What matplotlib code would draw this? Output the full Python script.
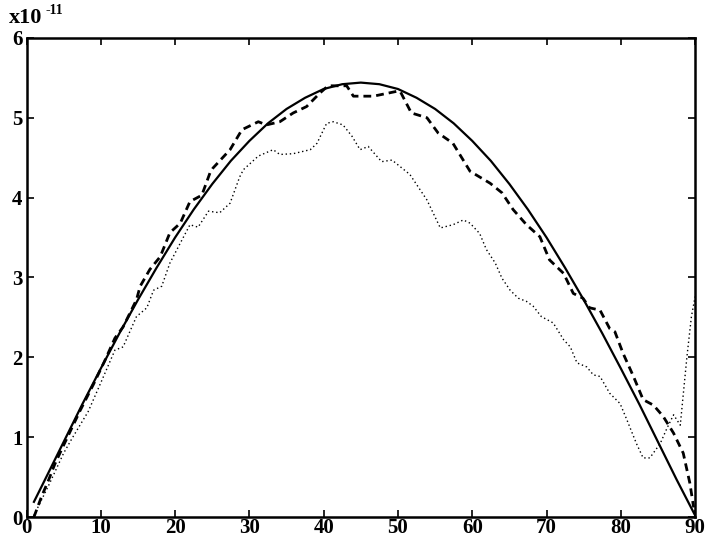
import matplotlib
matplotlib.use("Agg")
import matplotlib.pyplot as plt

plt.rcParams['font.family'] = ['Liberation Serif', 'DejaVu Serif']
plt.rcParams['font.weight'] = 'bold'

# solid curve
solid_x = [1, 2.5, 5, 7.5, 10, 12.5, 15, 17.5, 20, 22.5, 25, 27.5, 30, 32.5, 35, 37.5,
           40, 42.5, 45, 47.5, 50, 52.5, 55, 57.5, 60, 62.5, 65, 67.5, 70, 72.5, 75,
           77.5, 80, 82.5, 85, 87.5, 90]
solid_y = [0.19, 0.47, 0.94, 1.41, 1.86, 2.30, 2.72, 3.12, 3.50, 3.85, 4.17, 4.46,
           4.71, 4.93, 5.11, 5.25, 5.36, 5.42, 5.44, 5.42, 5.36, 5.25, 5.11, 4.93,
           4.71, 4.46, 4.17, 3.85, 3.50, 3.12, 2.72, 2.30, 1.86, 1.41, 0.94, 0.47, 0.02]

# dashed curve
dash_x = [1.0, 2.0, 3.0, 3.8, 5.0, 7.2, 9.0, 10.5, 11.9, 13.0, 14.8, 15.3, 16.6, 18.0,
          19.3, 20.7, 22.0, 23.6, 24.7, 25.1, 27.4, 29.0, 31.2, 32.3, 34.1, 35.9, 37.7,
          39.5, 40.6, 43.1, 44.0, 46.7, 49.8, 50.3, 51.8, 53.9, 55.4, 57.4, 59.7, 62.4,
          64.0, 65.5, 67.3, 69.1, 70.4, 72.3, 73.6, 74.9, 75.8, 77.2, 78.5, 79.2, 80.3,
          81.7, 83.0, 84.4, 85.7, 87.1, 88.4, 89.3, 89.8]
dash_y = [0.00, 0.25, 0.47, 0.66, 0.90, 1.33, 1.66, 1.95, 2.24, 2.38, 2.72, 2.89, 3.10,
          3.26, 3.56, 3.68, 3.95, 4.03, 4.31, 4.37, 4.60, 4.85, 4.95, 4.91, 4.95, 5.06,
          5.14, 5.31, 5.40, 5.40, 5.27, 5.27, 5.33, 5.33, 5.06, 5.00, 4.81, 4.68, 4.33,
          4.18, 4.06, 3.85, 3.66, 3.51, 3.22, 3.05, 2.80, 2.74, 2.62, 2.59, 2.36, 2.32,
          2.05, 1.76, 1.47, 1.40, 1.26, 1.05, 0.80, 0.42, 0.12]

# dotted curve
dot_x = [1.0, 3.0, 5.0, 6.1, 8.3, 9.9, 11.9, 13.0, 14.8, 16.2, 17.1, 18.2, 19.3, 20.7,
         22.0, 23.1, 24.5, 26.0, 27.4, 28.7, 29.2, 31.2, 33.2, 34.1, 35.9, 38.2, 39.1,
         40.4, 41.3, 42.6, 43.8, 44.9, 46.0, 47.8, 49.2, 51.6, 53.9, 55.7, 57.4, 58.8,
         59.7, 61.0, 61.9, 63.1, 64.0, 65.1, 66.2, 67.3, 68.2, 69.3, 70.9, 72.3, 73.2,
         74.1, 75.4, 76.3, 77.2, 78.5, 79.9, 80.8, 82.1, 83.0, 83.9, 85.3, 86.2, 87.1,
         88.0, 88.9, 89.5, 90.0]
dot_y = [0.02, 0.40, 0.80, 0.98, 1.32, 1.66, 2.09, 2.13, 2.51, 2.62, 2.84, 2.89, 3.18,
         3.43, 3.66, 3.63, 3.83, 3.81, 3.93, 4.26, 4.35, 4.52, 4.60, 4.54, 4.55, 4.60,
         4.68, 4.93, 4.95, 4.91, 4.77, 4.60, 4.64, 4.45, 4.47, 4.29, 3.97, 3.62, 3.66,
         3.72, 3.68, 3.55, 3.35, 3.18, 2.99, 2.84, 2.74, 2.70, 2.64, 2.51, 2.43, 2.22,
         2.13, 1.93, 1.88, 1.78, 1.76, 1.55, 1.42, 1.22, 0.92, 0.74, 0.74, 0.92, 1.11,
         1.28, 1.15, 2.01, 2.51, 2.76]

xticks = [0, 10, 20, 30, 40, 50, 60, 70, 80, 90]
yticks = [0, 1, 2, 3, 4, 5, 6]

fig = plt.figure(figsize=(7.05, 5.42), dpi=100)
ax = fig.add_axes([0.0376, 0.0461, 0.9484, 0.884])

ax.plot(solid_x, solid_y, color='black', lw=1.6, ls='-')
ax.plot(dash_x, dash_y, color='black', lw=2.0, ls=(0, (2.8, 1.8)))
ax.plot(dot_x, dot_y, color='black', lw=1.0, ls=(0, (1, 2.0)))

ax.set_xlim(0, 90)
ax.set_ylim(0, 6)
ax.set_xticks(xticks)
ax.set_yticks(yticks)
ax.tick_params(direction='in', length=5, width=1.2, top=True, right=True,
               labelsize=15)
ax.tick_params(axis='x', pad=1)
ax.tick_params(axis='y', pad=3)
for lab in ax.get_xticklabels() + ax.get_yticklabels():
    lab.set_fontweight('bold')
for s in ax.spines.values():
    s.set_linewidth(1.8)

# exponent label at the top left
fig.text(0.012, 0.958, 'x10', fontsize=16, fontweight='bold')
fig.text(0.064, 0.974, '-11', fontsize=10, fontweight='bold')

fig.savefig('out.png', dpi=100)
